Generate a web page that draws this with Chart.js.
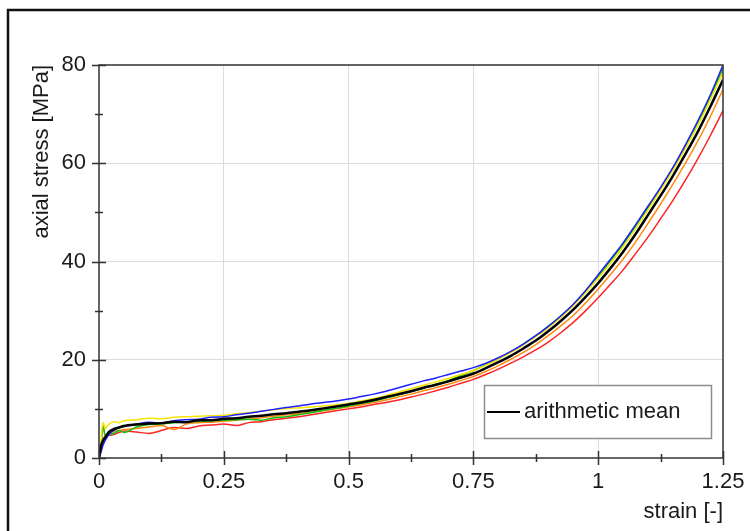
<!DOCTYPE html>
<html><head><meta charset="utf-8">
<script src="https://cdn.jsdelivr.net/npm/chart.js@4.4.0/dist/chart.umd.min.js"></script>
<style>html,body{margin:0;padding:0;background:#fff;} canvas{display:block;}</style>
</head><body>
<canvas id="c" width="750" height="531"></canvas>
<script>
const strain = [0, 0.004, 0.008, 0.0125, 0.02, 0.03, 0.04, 0.05, 0.075, 0.1, 0.125, 0.15, 0.175, 0.2, 0.225, 0.25, 0.275, 0.3, 0.325, 0.35, 0.375, 0.4, 0.425, 0.45, 0.475, 0.5, 0.525, 0.55, 0.575, 0.6, 0.625, 0.65, 0.675, 0.7, 0.725, 0.75, 0.775, 0.8, 0.825, 0.85, 0.875, 0.9, 0.925, 0.95, 0.975, 1.0, 1.025, 1.05, 1.075, 1.1, 1.125, 1.15, 1.175, 1.2, 1.225, 1.25];

const meanStress   = [0, 2.5, 3.5, 4.2, 5.3, 5.9, 6.2, 6.5, 6.8, 7.0, 7.1, 7.4, 7.3, 7.7, 7.7, 8.0, 8.1, 8.4, 8.6, 8.9, 9.1, 9.4, 9.7, 10.1, 10.5, 10.9, 11.3, 11.8, 12.4, 13.0, 13.6, 14.3, 14.9, 15.6, 16.4, 17.2, 18.3, 19.5, 20.8, 22.3, 23.9, 25.8, 27.9, 30.2, 32.8, 35.6, 38.7, 42.0, 45.6, 49.5, 53.4, 57.5, 61.9, 66.5, 71.6, 77.0];
const blueStress   = [0, 1.2, 2.6, 3.6, 4.8, 5.6, 6.2, 6.4, 6.9, 7.3, 7.1, 7.6, 7.8, 7.9, 8.3, 8.4, 8.8, 9.1, 9.5, 9.9, 10.3, 10.6, 11.0, 11.3, 11.6, 12.0, 12.5, 13.0, 13.6, 14.3, 15.0, 15.7, 16.3, 17.0, 17.7, 18.4, 19.3, 20.4, 21.7, 23.2, 24.9, 26.8, 28.9, 31.3, 34.1, 37.3, 40.5, 43.8, 47.5, 51.3, 55.1, 59.2, 63.8, 68.7, 74.0, 80.0];
const yellowStress = [0, 3.5, 7.3, 6.0, 6.9, 7.4, 7.2, 7.6, 7.8, 8.1, 8.0, 8.3, 8.4, 8.5, 8.6, 8.7, 9.0, 9.2, 9.5, 9.8, 10.1, 10.2, 10.4, 10.6, 10.8, 11.1, 11.6, 12.1, 12.7, 13.4, 14.1, 14.8, 15.5, 16.2, 17.0, 17.8, 18.9, 20.1, 21.5, 23.0, 24.7, 26.5, 28.6, 31.0, 33.7, 36.6, 39.7, 43.0, 46.7, 50.5, 54.5, 58.6, 63.1, 67.8, 73.0, 78.5];
const greenStress  = [0, 2.0, 6.5, 4.6, 4.8, 5.0, 5.6, 5.2, 6.3, 6.8, 6.9, 7.2, 7.3, 7.5, 7.6, 7.7, 7.8, 7.9, 7.7, 8.2, 8.4, 8.8, 9.2, 9.7, 10.1, 10.6, 11.1, 11.6, 12.2, 12.8, 13.5, 14.2, 15.0, 15.8, 16.8, 17.8, 19.0, 20.2, 21.6, 23.2, 24.9, 26.8, 28.9, 31.2, 34.0, 37.0, 40.2, 43.5, 47.2, 51.0, 54.9, 59.0, 63.5, 68.3, 73.6, 79.3];
const orangeStress = [0, 1.8, 6.8, 4.5, 5.0, 5.4, 5.6, 5.8, 6.0, 6.3, 6.6, 5.8, 6.9, 7.2, 7.3, 7.5, 7.7, 7.9, 8.2, 8.5, 8.8, 9.0, 9.3, 9.6, 10.0, 10.4, 10.8, 11.3, 11.8, 12.4, 13.0, 13.7, 14.3, 15.0, 15.8, 16.6, 17.6, 18.8, 20.1, 21.5, 23.1, 24.9, 26.9, 29.0, 31.6, 34.4, 37.4, 40.5, 44.0, 47.8, 51.7, 55.8, 60.1, 64.6, 69.6, 75.0];
const redStress    = [0, 1.5, 3.8, 4.3, 4.6, 4.8, 5.2, 5.5, 5.3, 5.0, 5.6, 6.2, 6.0, 6.5, 6.7, 6.9, 6.6, 7.2, 7.4, 7.8, 8.1, 8.4, 8.8, 9.2, 9.6, 10.0, 10.4, 10.9, 11.3, 11.8, 12.4, 13.0, 13.7, 14.4, 15.2, 16.0, 17.0, 18.1, 19.3, 20.6, 22.0, 23.6, 25.5, 27.6, 30.0, 32.6, 35.4, 38.3, 41.6, 45.0, 48.7, 52.5, 56.6, 61.0, 65.7, 70.7];

const xTickLabels = ['0', '0.25', '0.5', '0.75', '1', '1.25'];
const yTickLabels = ['0', '20', '40', '60', '80'];
const xTitle = 'strain [-]';
const yTitle = 'axial stress [MPa]';
const legendLabel = 'arithmetic mean';

const FONT = 'Liberation Sans, Arial, Helvetica, sans-serif';
const FS = 22;
const TXT = '#1a1a1a';

function pts(arr) { return strain.map((s, i) => ({ x: s, y: arr[i] })); }
function ds(label, arr, color, w) {
  return { label, data: pts(arr), borderColor: color, backgroundColor: color, borderWidth: w,
           pointRadius: 0, cubicInterpolationMode: 'monotone', fill: false };
}

const decor = {
  id: 'decor',
  afterDraw(chart) {
    const { ctx, chartArea: a, scales: { x, y } } = chart;
    ctx.save();
    // outer figure frame
    ctx.strokeStyle = '#111'; ctx.lineWidth = 2.5;
    ctx.beginPath(); ctx.moveTo(8, 531); ctx.lineTo(8, 10); ctx.lineTo(750, 10); ctx.stroke();
    // plot box
    ctx.strokeStyle = '#333'; ctx.lineWidth = 1.5;
    ctx.strokeRect(a.left, a.top, a.right - a.left, a.bottom - a.top);
    // tick marks crossing the axes
    ctx.beginPath();
    y.ticks.forEach(t => {
      const py = Math.round(y.getPixelForValue(t.value)) + 0.5;
      const L = (t.value % 20 === 0) ? 7 : 4;
      ctx.moveTo(a.left - L, py); ctx.lineTo(a.left + L, py);
    });
    x.ticks.forEach(t => {
      const px = Math.round(x.getPixelForValue(t.value)) + 0.5;
      const q = t.value / 0.25;
      const L = Math.abs(q - Math.round(q)) < 1e-9 ? 7 : 4;
      ctx.moveTo(px, a.bottom - L); ctx.lineTo(px, a.bottom + L);
    });
    ctx.stroke();
    // legend box
    const bx = a.right - 239, by = a.bottom - 73, bw = 227, bh = 53;
    ctx.fillStyle = '#fff'; ctx.fillRect(bx, by, bw, bh);
    ctx.strokeStyle = '#8c8c8c'; ctx.lineWidth = 1.5;
    ctx.strokeRect(bx + 0.5, by + 0.5, bw, bh);
    const ly = by + 27;
    ctx.strokeStyle = '#000'; ctx.lineWidth = 2;
    ctx.beginPath(); ctx.moveTo(bx + 3, ly); ctx.lineTo(bx + 36, ly); ctx.stroke();
    ctx.fillStyle = TXT; ctx.font = FS + 'px ' + FONT; ctx.textBaseline = 'middle'; ctx.textAlign = 'left';
    ctx.fillText(legendLabel, bx + 40, ly);
    ctx.restore();
  }
};

new Chart(document.getElementById('c'), {
  type: 'line',
  data: {
    datasets: [
      ds('arithmetic mean', meanStress, '#000000', 2.5),
      ds('specimen 1', blueStress, '#1f1fff', 1.5),
      ds('specimen 2', yellowStress, '#f5e600', 1.5),
      ds('specimen 3', greenStress, '#10c010', 1.5),
      ds('specimen 4', orangeStress, '#ff8a10', 1.5),
      ds('specimen 5', redStress, '#ff2424', 1.5)
    ]
  },
  options: {
    responsive: false,
    animation: false,
    layout: { padding: { left: 0, right: 27, top: 65, bottom: 0 } },
    plugins: { legend: { display: false }, tooltip: { enabled: false } },
    scales: {
      x: {
        type: 'linear', min: 0, max: 1.25,
        afterFit(s) { s.height = 73; s.paddingLeft = 0; s.paddingRight = 0; },
        afterBuildTicks(s) { s.ticks = []; for (let k = 0; k <= 10; k++) s.ticks.push({ value: k * 0.125 }); },
        grid: {
          drawTicks: false,
          color: c => { const v = c.tick ? c.tick.value : 0; const q = v / 0.25;
            return (Math.abs(q - Math.round(q)) < 1e-9 && v > 0 && v < 1.25) ? '#dcdcdc' : 'rgba(0,0,0,0)'; },
          lineWidth: 1
        },
        border: { display: false },
        ticks: {
          autoSkip: false, maxRotation: 0, padding: 11, color: TXT, font: { family: FONT, size: FS },
          callback: v => { const q = v / 0.25; return Math.abs(q - Math.round(q)) < 1e-9 ? xTickLabels[Math.round(q)] : ''; }
        },
        title: { display: true, text: xTitle, align: 'end', color: TXT, font: { family: FONT, size: FS }, padding: { top: 0, bottom: 6 } }
      },
      y: {
        type: 'linear', min: 0, max: 80,
        afterFit(s) { s.width = 99; s.paddingTop = 0; s.paddingBottom = 0; },
        afterBuildTicks(s) { s.ticks = []; for (let k = 0; k <= 8; k++) s.ticks.push({ value: k * 10 }); },
        grid: {
          drawTicks: false,
          color: c => { const v = c.tick ? c.tick.value : 0;
            return (v % 20 === 0 && v > 0 && v < 80) ? '#dcdcdc' : 'rgba(0,0,0,0)'; },
          lineWidth: 1
        },
        border: { display: false },
        ticks: {
          autoSkip: false, padding: 13, color: TXT, font: { family: FONT, size: FS },
          callback: v => v % 20 === 0 ? yTickLabels[v / 20] : ''
        },
        title: { display: true, text: yTitle, align: 'end', color: TXT, font: { family: FONT, size: FS }, padding: { top: 29, bottom: 0 } }
      }
    }
  },
  plugins: [decor]
});
</script>
</body></html>
